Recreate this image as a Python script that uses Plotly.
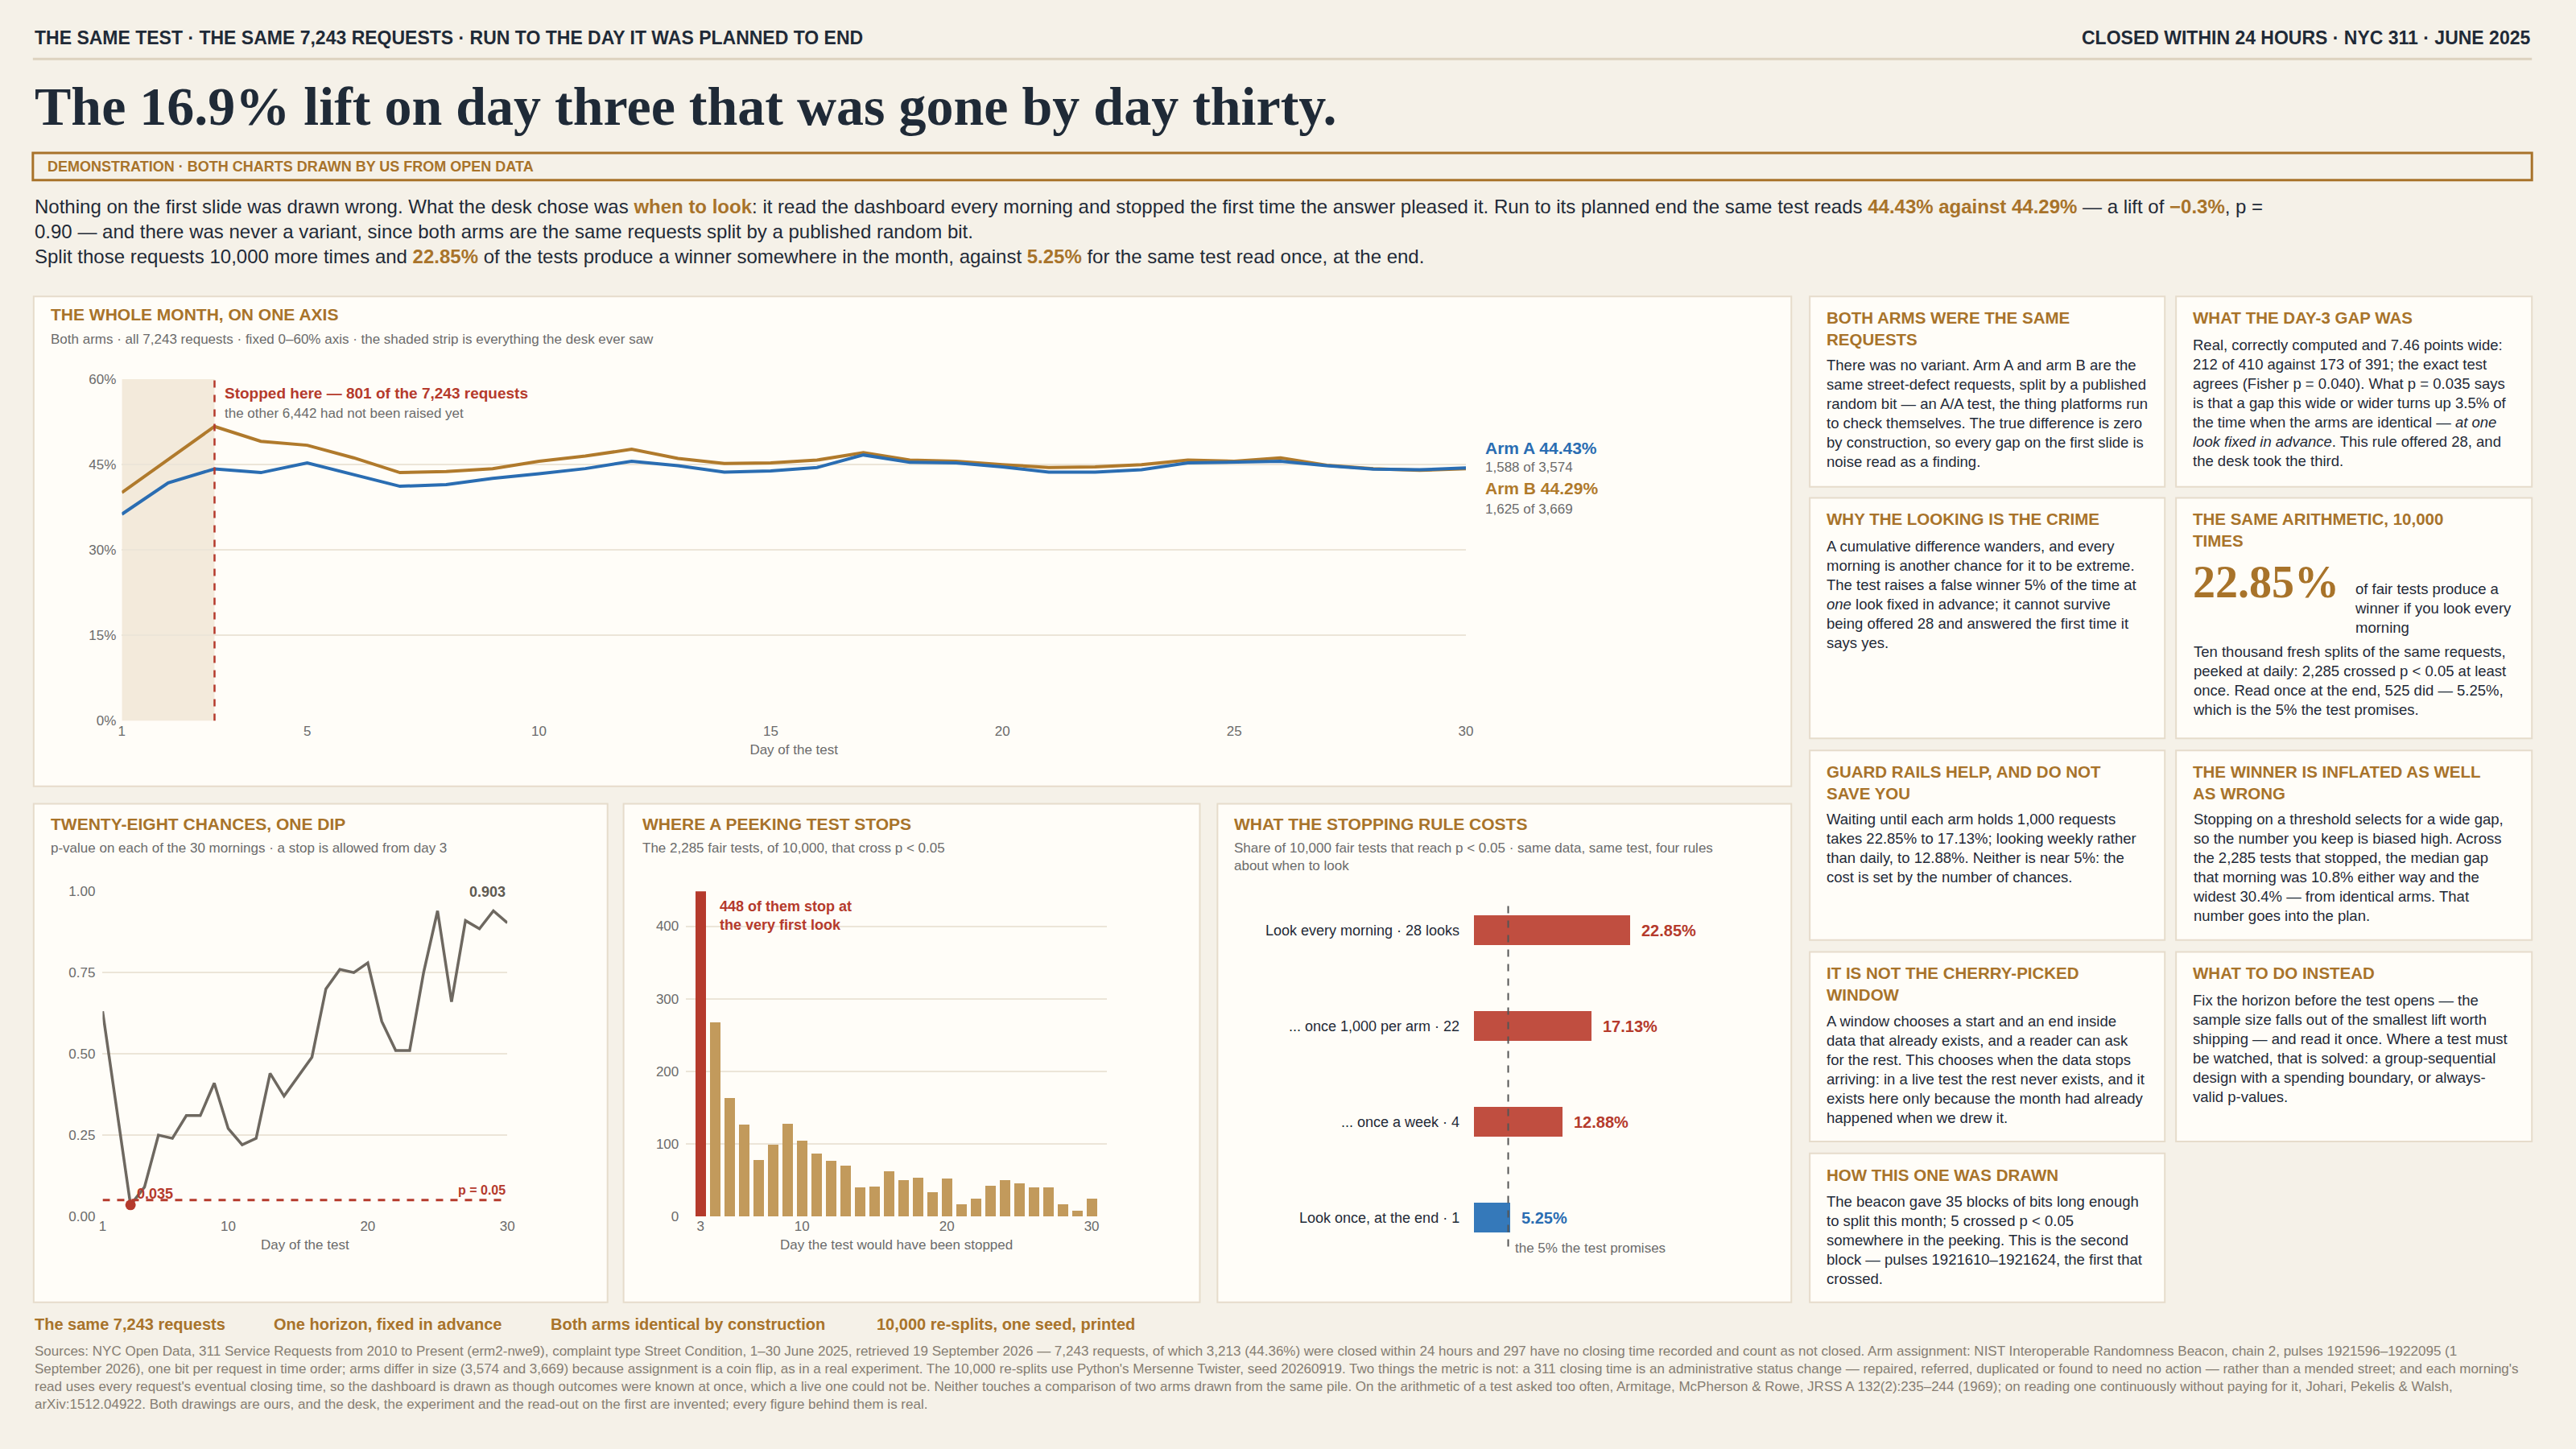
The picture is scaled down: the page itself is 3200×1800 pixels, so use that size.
import plotly.graph_objects as go

W, H = 3200, 1800
def X(x): return x / W
def Y(y): return 1 - y / H

days = list(range(1, 31))
arm_a = [36.3, 41.8, 44.25, 43.6, 45.3, 43.3, 41.2, 41.5, 42.6, 43.4, 44.3, 45.6, 44.8, 43.7, 43.9,
         44.5, 46.7, 45.4, 45.3, 44.6, 43.7, 43.7, 44.1, 45.3, 45.4, 45.6, 44.8, 44.2, 44.1, 44.43]
arm_b = [40.1, 45.9, 51.71, 49.1, 48.4, 46.2, 43.6, 43.8, 44.3, 45.6, 46.5, 47.7, 46.1, 45.2, 45.3,
         45.8, 47.1, 45.8, 45.6, 45.0, 44.5, 44.6, 45.0, 45.8, 45.6, 46.2, 44.9, 44.3, 44.0, 44.29]
pvals = [0.631, 0.33, 0.035, 0.09, 0.25, 0.24, 0.31, 0.31, 0.41, 0.27, 0.22, 0.24, 0.44, 0.37, 0.43,
         0.49, 0.70, 0.76, 0.75, 0.78, 0.60, 0.51, 0.51, 0.75, 0.94, 0.66, 0.91, 0.885, 0.94, 0.903]
stop_days = list(range(3, 31))
stop_counts = [448, 267, 163, 126, 78, 99, 128, 104, 87, 76, 70, 40, 41, 62, 50, 53, 33, 52, 17, 24,
               42, 50, 46, 40, 40, 17, 8, 24]
rule_labels = ["Look every morning · 28 looks", "... once 1,000 per arm · 22", "... once a week · 4",
               "Look once, at the end · 1"]
rule_rates = [22.85, 17.13, 12.88, 5.25]
main_yticks = [0, 15, 30, 45, 60]
main_yticktext = ["0%", "15%", "30%", "45%", "60%"]

BG = "#f5f1e8"; PANEL = "#fffdf8"; BORDER = "#e6dccb"
GOLD = "#a8732a"; INK = "#1f2a37"; MUTED = "#6b6b6b"; GRID = "#ece5d8"
BLUE = "#2a6db2"; ORANGE = "#b07a2c"; RED = "#b53a2c"; BARRED = "#c04e40"; TAN = "#c29a5c"
SANS = "Liberation Sans"; SERIF = "Liberation Serif"

fig = go.Figure()
shapes = []; ann = []

def txt(x, y, s, size=19, color=INK, xa="left", ya="middle", family=SANS, **kw):
    ann.append(dict(x=X(x), y=Y(y), xref="paper", yref="paper", text=s, showarrow=False,
                    xanchor=xa, yanchor=ya, align=xa if xa != "center" else "center",
                    font=dict(size=size, color=color, family=family), **kw))

def panel(x0, y0, x1, y1):
    shapes.append(dict(type="rect", xref="paper", yref="paper", x0=X(x0), x1=X(x1), y0=Y(y1), y1=Y(y0),
                       fillcolor=PANEL, line=dict(color=BORDER, width=2), layer="below"))

# header
txt(36, 38, "<b>THE SAME TEST · THE SAME 7,243 REQUESTS · RUN TO THE DAY IT WAS PLANNED TO END</b>", 23, INK)
txt(3154, 38, "<b>CLOSED WITHIN 24 HOURS · NYC 311 · JUNE 2025</b>", 23, INK, xa="right")
shapes.append(dict(type="line", xref="paper", yref="paper", x0=X(36), x1=X(3154), y0=Y(65), y1=Y(65),
                   line=dict(color="#ddd2bf", width=3)))
txt(36, 124, "<b>The 16.9% lift on day three that was gone by day thirty.</b>", 68, INK, family=SERIF)
shapes.append(dict(type="rect", xref="paper", yref="paper", x0=X(36), x1=X(3154), y0=Y(217), y1=Y(183),
                   line=dict(color=GOLD, width=3), fillcolor=BG))
txt(52, 200, "<b>DEMONSTRATION · BOTH CHARTS DRAWN BY US FROM OPEN DATA</b>", 18, GOLD)
hl = lambda s: f"<span style='color:{GOLD}'><b>{s}</b></span>"
intro = ("Nothing on the first slide was drawn wrong. What the desk chose was " + hl("when to look") +
         ": it read the dashboard every morning and stopped the first time the answer pleased it. Run to its planned end the same test reads "
         + hl("44.43% against 44.29%") + " — a lift of " + hl("−0.3%") + ", p =<br>"
         "0.90 — and there was never a variant, since both arms are the same requests split by a published random bit.<br>"
         "Split those requests 10,000 more times and " + hl("22.85%") +
         " of the tests produce a winner somewhere in the month, against " + hl("5.25%") + " for the same test read once, at the end.")
txt(36, 251, intro, 24, INK, ya="top", yshift=16)

# panels
panel(37, 363, 2230, 978)
panel(37, 1000, 753, 1626); panel(773, 1000, 1492, 1626); panel(1514, 1000, 2230, 1626)

# main chart
txt(56, 386, "<b>THE WHOLE MONTH, ON ONE AXIS</b>", 21, GOLD)
txt(56, 417, "Both arms · all 7,243 requests · fixed 0–60% axis · the shaded strip is everything the desk ever saw", 17, MUTED)
fig.add_trace(go.Scatter(x=days, y=arm_b, mode="lines", line=dict(color=ORANGE, width=4), xaxis="x", yaxis="y", hoverinfo="skip"))
fig.add_trace(go.Scatter(x=days, y=arm_a, mode="lines", line=dict(color=BLUE, width=4), xaxis="x", yaxis="y", hoverinfo="skip"))
shapes.append(dict(type="rect", xref="x", yref="y", x0=1, x1=3, y0=0, y1=60, fillcolor="#f3eadb", line=dict(width=0), layer="below"))
shapes.append(dict(type="line", xref="x", yref="y", x0=3, x1=3, y0=0, y1=60, line=dict(color=RED, width=2.5, dash="dash")))
ann.append(dict(x=3, y=57.5, xref="x", yref="y", text="<b>Stopped here — 801 of the 7,243 requests</b>", showarrow=False,
                xanchor="left", xshift=10, font=dict(size=19, color=RED, family=SANS)))
ann.append(dict(x=3, y=54.0, xref="x", yref="y", text="the other 6,442 had not been raised yet", showarrow=False,
                xanchor="left", xshift=10, font=dict(size=17, color=MUTED, family=SANS)))
txt(1846, 553, "<b>Arm A 44.43%</b>", 21, BLUE)
txt(1846, 578, "1,588 of 3,574", 17, MUTED)
txt(1846, 604, "<b>Arm B 44.29%</b>", 21, ORANGE)
txt(1846, 630, "1,625 of 3,669", 17, MUTED)

# p-value chart
txt(56, 1025, "<b>TWENTY-EIGHT CHANCES, ONE DIP</b>", 21, GOLD)
txt(56, 1056, "p-value on each of the 30 mornings · a stop is allowed from day 3", 17, MUTED)
fig.add_trace(go.Scatter(x=days, y=pvals, mode="lines", line=dict(color="#6e6860", width=3.5), xaxis="x2", yaxis="y2", hoverinfo="skip"))
fig.add_trace(go.Scatter(x=[3], y=[pvals[2]], mode="markers", marker=dict(color=RED, size=13), xaxis="x2", yaxis="y2", hoverinfo="skip"))
shapes.append(dict(type="line", xref="x2", yref="y2", x0=1, x1=30, y0=0.05, y1=0.05, line=dict(color=RED, width=3, dash="dash")))
ann.append(dict(x=3, y=0.035, xref="x2", yref="y2", text="<b>0.035</b>", showarrow=False, xanchor="left", yanchor="bottom",
                xshift=6, yshift=2, font=dict(size=18, color=RED, family=SANS)))
ann.append(dict(x=30, y=0.05, xref="x2", yref="y2", text="<b>p = 0.05</b>", showarrow=False, xanchor="right", yanchor="bottom",
                yshift=2, font=dict(size=16, color=RED, family=SANS)))
ann.append(dict(x=30, y=pvals[-1], xref="x2", yref="y2", text="<b>0.903</b>", showarrow=False, xanchor="right", yanchor="bottom",
                yshift=26, font=dict(size=18, color="#5f5a52", family=SANS)))

# histogram
txt(794, 1025, "<b>WHERE A PEEKING TEST STOPS</b>", 21, GOLD)
txt(794, 1056, "The 2,285 fair tests, of 10,000, that cross p < 0.05", 17, MUTED)
fig.add_trace(go.Bar(x=stop_days, y=stop_counts, width=0.72,
                     marker=dict(color=[RED] + [TAN] * (len(stop_days) - 1), line=dict(width=0)),
                     xaxis="x3", yaxis="y3", hoverinfo="skip"))
ann.append(dict(x=4.2, y=440, xref="x3", yref="y3", text="<b>448 of them stop at<br>the very first look</b>", showarrow=False,
                xanchor="left", yanchor="top", align="left", font=dict(size=18, color=RED, family=SANS)))

# stopping rule bars
txt(1533, 1025, "<b>WHAT THE STOPPING RULE COSTS</b>", 21, GOLD)
txt(1533, 1056, "Share of 10,000 fair tests that reach p < 0.05 · same data, same test, four rules<br>about when to look", 17, MUTED, ya="top", yshift=12)
fig.add_trace(go.Bar(x=rule_rates, y=list(range(4)), orientation="h", width=0.31,
                     marker=dict(color=[BARRED, BARRED, BARRED, "#3579ba"], line=dict(width=0)),
                     xaxis="x4", yaxis="y4", hoverinfo="skip"))
for i, (lab, v) in enumerate(zip(rule_labels, rule_rates)):
    ann.append(dict(x=0, y=i, xref="x4", yref="y4", text=lab, showarrow=False, xanchor="right", xshift=-16,
                    font=dict(size=18, color=INK, family=SANS)))
    ann.append(dict(x=v, y=i, xref="x4", yref="y4", text=f"<b>{v:.2f}%</b>", showarrow=False, xanchor="left", xshift=12,
                    font=dict(size=20, color=BLUE if i == 3 else RED, family=SANS)))
shapes.append(dict(type="line", xref="x4", yref="paper", x0=5, x1=5, y0=Y(1556), y1=Y(1126), line=dict(color="#555", width=2, dash="dash")))
ann.append(dict(x=5, y=Y(1570), xref="x4", yref="paper", text="the 5% the test promises", showarrow=False, xanchor="left",
                xshift=6, font=dict(size=17, color=MUTED, family=SANS)))

# right column cards
cards = [
    (2253, 363, 2696, 602, "BOTH ARMS WERE THE SAME<br>REQUESTS",
     "There was no variant. Arm A and arm B are the<br>same street-defect requests, split by a published<br>random bit — an A/A test, the thing platforms run<br>to check themselves. The true difference is zero<br>by construction, so every gap on the first slide is<br>noise read as a finding."),
    (2710, 363, 3154, 602, "WHAT THE DAY-3 GAP WAS",
     "Real, correctly computed and 7.46 points wide:<br>212 of 410 against 173 of 391; the exact test<br>agrees (Fisher p = 0.040). What p = 0.035 says<br>is that a gap this wide or wider turns up 3.5% of<br>the time when the arms are identical — <i>at one<br>look fixed in advance</i>. This rule offered 28, and<br>the desk took the third."),
    (2253, 616, 2696, 918, "WHY THE LOOKING IS THE CRIME",
     "A cumulative difference wanders, and every<br>morning is another chance for it to be extreme.<br>The test raises a false winner 5% of the time at<br><i>one</i> look fixed in advance; it cannot survive<br>being offered 28 and answered the first time it<br>says yes."),
    (2710, 616, 3154, 918, "THE SAME ARITHMETIC, 10,000<br>TIMES", None),
    (2253, 933, 2696, 1171, "GUARD RAILS HELP, AND DO NOT<br>SAVE YOU",
     "Waiting until each arm holds 1,000 requests<br>takes 22.85% to 17.13%; looking weekly rather<br>than daily, to 12.88%. Neither is near 5%: the<br>cost is set by the number of chances."),
    (2710, 933, 3154, 1171, "THE WINNER IS INFLATED AS WELL<br>AS WRONG",
     "Stopping on a threshold selects for a wide gap,<br>so the number you keep is biased high. Across<br>the 2,285 tests that stopped, the median gap<br>that morning was 10.8% either way and the<br>widest 30.4% — from identical arms. That<br>number goes into the plan."),
    (2253, 1186, 2696, 1424, "IT IS NOT THE CHERRY-PICKED<br>WINDOW",
     "A window chooses a start and an end inside<br>data that already exists, and a reader can ask<br>for the rest. This chooses when the data stops<br>arriving: in a live test the rest never exists, and it<br>exists here only because the month had already<br>happened when we drew it."),
    (2710, 1186, 3154, 1424, "WHAT TO DO INSTEAD",
     "Fix the horizon before the test opens — the<br>sample size falls out of the smallest lift worth<br>shipping — and read it once. Where a test must<br>be watched, that is solved: a group-sequential<br>design with a spending boundary, or always-<br>valid p-values."),
    (2253, 1439, 2696, 1626, "HOW THIS ONE WAS DRAWN",
     "The beacon gave 35 blocks of bits long enough<br>to split this month; 5 crossed p < 0.05<br>somewhere in the peeking. This is the second<br>block — pulses 1921610–1921624, the first that<br>crossed."),
]
for x0, y0, x1, y1, title, body in cards:
    panel(x0, y0, x1, y1)
    nl = title.count("<br>") + 1
    txt(x0 + 19, y0 + 13, f"<b>{title}</b>", 20.5, GOLD, ya="top")
    if body:
        txt(x0 + 19, y0 + 22 + nl * 26, body, 18.5, INK, ya="top")
txt(2729, 722, "<b>22.85%</b>", 56, GOLD, family=SERIF)
txt(2931, 718, "of fair tests produce a<br>winner if you look every<br>morning", 18.5, INK, ya="top")
txt(2729, 796, "Ten thousand fresh splits of the same requests,<br>peeked at daily: 2,285 crossed p < 0.05 at least<br>once. Read once at the end, 525 did — 5.25%,<br>which is the 5% the test promises.", 18.5, INK, ya="top")

# footer
for x, s in [(36, "The same 7,243 requests"), (334, "One horizon, fixed in advance"),
             (680, "Both arms identical by construction"), (1087, "10,000 re-splits, one seed, printed")]:
    txt(x, 1653, f"<b>{s}</b>", 20, GOLD)
sources = ("Sources: NYC Open Data, 311 Service Requests from 2010 to Present (erm2-nwe9), complaint type Street Condition, 1–30 June 2025, retrieved 19 September 2026 — 7,243 requests, of which 3,213 (44.36%) were closed within 24 hours and 297 have no closing time recorded and count as not closed. Arm assignment: NIST Interoperable Randomness Beacon, chain 2, pulses 1921596–1922095 (1<br>"
           "September 2026), one bit per request in time order; arms differ in size (3,574 and 3,669) because assignment is a coin flip, as in a real experiment. The 10,000 re-splits use Python's Mersenne Twister, seed 20260919. Two things the metric is not: a 311 closing time is an administrative status change — repaired, referred, duplicated or found to need no action — rather than a mended street; and each morning's<br>"
           "read uses every request's eventual closing time, so the dashboard is drawn as though outcomes were known at once, which a live one could not be. Neither touches a comparison of two arms drawn from the same pile. On the arithmetic of a test asked too often, Armitage, McPherson & Rowe, JRSS A 132(2):235–244 (1969); on reading one continuously without paying for it, Johari, Pekelis & Walsh,<br>"
           "arXiv:1512.04922. Both drawings are ours, and the desk, the experiment and the read-out on the first are invented; every figure behind them is real.")
txt(36, 1676, sources, 17, "#857d72", ya="top")

ax = dict(showline=False, zeroline=False, tickfont=dict(size=17, color=MUTED, family=SANS), ticks="", fixedrange=True)
def dom(a, b, n=W): return [a / n, b / n]
def ydom(top, bot): return [1 - bot / H, 1 - top / H]
xt = lambda s: dict(text=s, font=dict(size=17, color=MUTED, family=SANS), standoff=8)

fig.update_layout(
    width=W, height=H, margin=dict(l=0, r=0, t=0, b=0), paper_bgcolor=BG, plot_bgcolor="rgba(0,0,0,0)",
    showlegend=False, shapes=shapes, annotations=ann, bargap=0,
    xaxis=dict(ax, domain=dom(147, 1824), range=[1, 30], tickvals=[1, 5, 10, 15, 20, 25, 30], showgrid=False,
               anchor="y", title=xt("Day of the test")),
    yaxis=dict(ax, domain=ydom(467, 896), range=[0, 60], tickvals=main_yticks, ticktext=main_yticktext,
               gridcolor=GRID, gridwidth=2, ticklabelstandoff=6, anchor="x"),
    xaxis2=dict(ax, domain=dom(123, 628), range=[1, 30], tickvals=[1, 10, 20, 30], showgrid=False,
                anchor="y2", title=xt("Day of the test")),
    yaxis2=dict(ax, domain=ydom(1110, 1518), range=[0, 1], tickvals=[0, 0.25, 0.5, 0.75, 1],
                ticktext=["0.00", "0.25", "0.50", "0.75", "1.00"],
                gridcolor=GRID, gridwidth=2, ticklabelstandoff=8, anchor="x2"),
    xaxis3=dict(ax, domain=dom(851, 1376), range=[2.0, 31.05], tickvals=[3, 10, 20, 30], showgrid=False, anchor="y3",
                title=xt("Day the test would have been stopped")),
    yaxis3=dict(ax, domain=ydom(1110, 1518), range=[0, 448], tickvals=[0, 100, 200, 300, 400],
                gridcolor=GRID, gridwidth=2, ticklabelstandoff=8, anchor="x3"),
    xaxis4=dict(ax, domain=dom(1834, 2176), range=[0, 40], showgrid=False, showticklabels=False, anchor="y4"),
    yaxis4=dict(ax, domain=ydom(1099, 1580), range=[3.5, -0.5], showgrid=False, showticklabels=False, anchor="x4"),
)
fig.write_html("out.html", config={"displayModeBar": False, "staticPlot": True})
with open("out.html", encoding="utf-8") as f:
    html = f.read()
html = html.replace("<head>", "<head><style>html,body{margin:0;padding:0;overflow:hidden;background:#f5f1e8}</style>", 1)
with open("out.html", "w", encoding="utf-8") as f:
    f.write(html)
